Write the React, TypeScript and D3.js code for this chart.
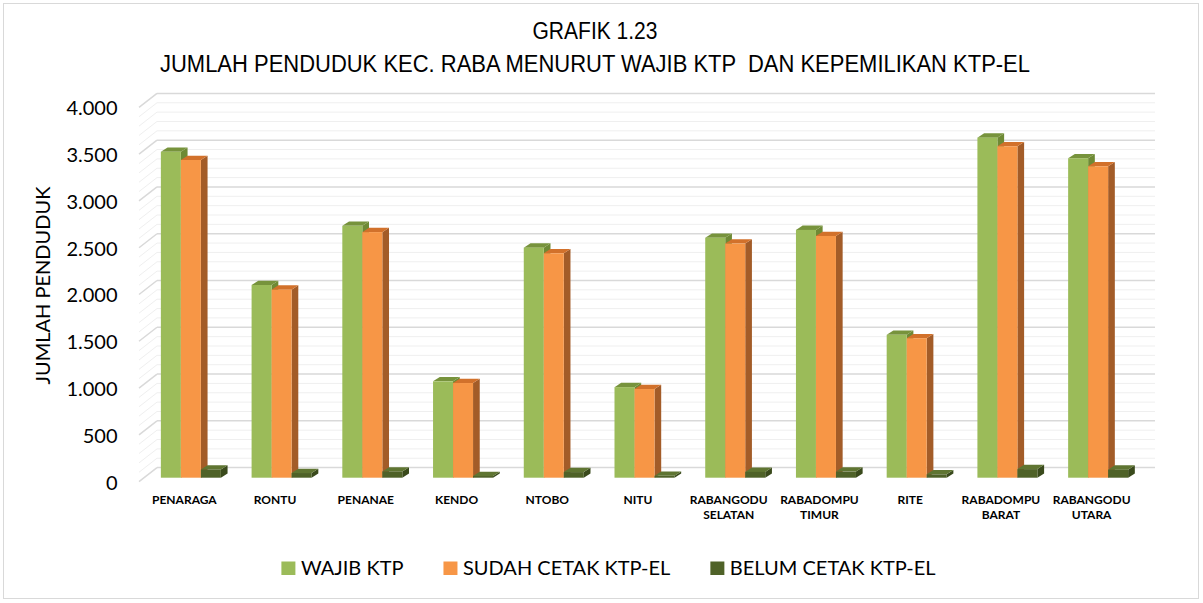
import { useEffect, useRef } from "react";
import * as d3 from "d3";

// data
const categories = [
  "PENARAGA",
  "RONTU",
  "PENANAE",
  "KENDO",
  "NTOBO",
  "NITU",
  "RABANGODU SELATAN",
  "RABADOMPU TIMUR",
  "RITE",
  "RABADOMPU BARAT",
  "RABANGODU UTARA",
];
const wajibKtp = [3484, 2060, 2692, 1030, 2459, 968, 2565, 2649, 1527, 3635, 3415];
const sudahCetak = [3396, 2010, 2625, 1012, 2399, 948, 2503, 2584, 1491, 3543, 3329];
const belumCetak = [88, 50, 67, 18, 60, 20, 62, 65, 36, 92, 86];
const seriesNames = ["WAJIB KTP", "SUDAH CETAK KTP-EL", "BELUM CETAK KTP-EL"];
const yTicks = [0, 500, 1000, 1500, 2000, 2500, 3000, 3500, 4000];
const titleLines = ["GRAFIK 1.23", "JUMLAH PENDUDUK KEC. RABA MENURUT WAJIB KTP  DAN KEPEMILIKAN KTP-EL"];
const titleWidths = [125, 870];
const yTitle = "JUMLAH PENDUDUK";

const W = 1203;
const H = 603;

const faces = [
  { front: "#9BBB59", top: "#77933C", side: "#6E8A35" },
  { front: "#F79646", top: "#D2712B", side: "#A35C28" },
  { front: "#4F6228", top: "#5F7532", side: "#3A4A1C" },
];

const calibri = "Lato, 'Open Sans', sans-serif";
const arial = "'Liberation Sans', Arial, sans-serif";

export default function App() {
  const ref = useRef<SVGSVGElement>(null);

  useEffect(() => {
    if (!ref.current) return;
    const svg = d3.select(ref.current);
    svg.selectAll("*").remove();

    // chart frame
    svg.append("rect")
      .attr("x", 3.5).attr("y", 3.5)
      .attr("width", W - 8).attr("height", H - 8)
      .attr("fill", "#fff").attr("stroke", "#D9D9D9");

    // 3D offsets: side wall depth and bar depth
    const wallDx = 18, wallDy = -14;
    const barDx = 6.7, barDy = -4.3;
    const barLift = -3.9;

    const y = d3.scaleLinear().domain([0, 4000]).range([481.6, 107.4]);
    const x = d3.scaleBand().domain(categories).range([139, 1137]);

    // gridlines on back wall + side wall
    const minor = d3.range(0, 4001, 100).filter((v) => v % 500 !== 0);
    const grid = svg.append("g");
    const wallLines = (cls: string, data: number[], color: string, sw: number) => {
      grid.selectAll(`line.${cls}`)
        .data(data)
        .join("line")
        .attr("class", cls)
        .attr("x1", 139 + wallDx).attr("x2", 1137 + wallDx)
        .attr("y1", (d) => y(d) + wallDy).attr("y2", (d) => y(d) + wallDy)
        .attr("stroke", color).attr("stroke-width", sw);
      grid.selectAll(`line.${cls}side`)
        .data(data)
        .join("line")
        .attr("class", `${cls}side`)
        .attr("x1", 139).attr("x2", 139 + wallDx)
        .attr("y1", (d) => y(d)).attr("y2", (d) => y(d) + wallDy)
        .attr("stroke", color).attr("stroke-width", sw);
    };
    wallLines("minor", minor, "#EFEFEF", 1);
    wallLines("major", yTicks, "#D9D9D9", 1.5);

    // y axis labels
    const idFormat = d3.formatLocale({ decimal: ",", thousands: ".", grouping: [3], currency: ["", ""] }).format(",d");
    const yAxis = svg.append("g")
      .attr("transform", "translate(117.5,1)")
      .call(d3.axisLeft(y).tickValues(yTicks).tickSize(0).tickPadding(0).tickFormat((d) => idFormat(+d)));
    yAxis.select(".domain").remove();
    yAxis.selectAll("text")
      .attr("fill", "#000")
      .style("font-family", calibri)
      .style("font-size", "20px");

    // bars
    const series = [wajibKtp, sudahCetak, belumCetak];
    const groupW = 60;
    const sub = d3.scaleBand<number>().domain([0, 1, 2]).range([0, groupW]);
    const barW = sub.bandwidth();
    const base = y(0) + barLift;
    const bars = svg.append("g");
    categories.forEach((c, i) => {
      const gx = (x(c) as number) + (x.bandwidth() - groupW) / 2 + 6.5;
      series.forEach((vals, s) => {
        const x0 = gx + (sub(s) as number);
        const top = y(vals[i]) + barLift;
        const f = faces[s];
        const g = bars.append("g");
        g.append("polygon")
          .attr("points", [
            [x0 + barW, top], [x0 + barW + barDx, top + barDy],
            [x0 + barW + barDx, base + barDy], [x0 + barW, base],
          ].join(" "))
          .attr("fill", f.side);
        g.append("polygon")
          .attr("points", [
            [x0, top], [x0 + barW, top],
            [x0 + barW + barDx, top + barDy], [x0 + barDx, top + barDy],
          ].join(" "))
          .attr("fill", f.top);
        g.append("rect")
          .attr("x", x0).attr("y", top)
          .attr("width", barW).attr("height", Math.max(0, base - top))
          .attr("fill", f.front);
      });
    });

    // x labels (two lines where needed)
    const xl = svg.append("g");
    categories.forEach((c) => {
      const cx = (x(c) as number) + x.bandwidth() / 2;
      const t = xl.append("text")
        .attr("x", cx)
        .attr("y", 503.5)
        .attr("text-anchor", "middle")
        .style("font-family", calibri)
        .style("font-size", "12px")
        .style("font-weight", "bold");
      c.split(" ").forEach((p, k) => {
        t.append("tspan")
          .attr("x", cx)
          .attr("dy", k === 0 ? 0 : 15)
          .text(p);
      });
    });

    // title (narrow face, so squeeze to measured width)
    svg.selectAll("text.title")
      .data(titleLines)
      .join("text")
      .attr("class", "title")
      .attr("x", 595)
      .attr("y", (_, k) => 38.5 + k * 33)
      .attr("text-anchor", "middle")
      .attr("textLength", (_, k) => titleWidths[k])
      .attr("lengthAdjust", "spacingAndGlyphs")
      .style("white-space", "pre")
      .style("font-family", arial)
      .style("font-size", "23.5px")
      .text((d) => d);

    // y title
    svg.append("text")
      .attr("transform", "translate(50,285.5) rotate(-90)")
      .attr("text-anchor", "middle")
      .style("font-family", calibri)
      .style("font-size", "20px")
      .text(yTitle);

    // legend
    const leg = svg.append("g");
    const items = seriesNames.map((name, s) => {
      const g = leg.append("g");
      g.append("rect").attr("x", 0).attr("y", -13.5).attr("width", 14).attr("height", 13.5).attr("fill", faces[s].front);
      const t = g.append("text").attr("x", 19.5).attr("y", 0)
        .style("font-family", calibri).style("font-size", "20px").text(name);
      const w = 19.5 + (t.node() as SVGTextElement).getComputedTextLength();
      return { g, w };
    });
    const gap = 40;
    const total = d3.sum(items, (d) => d.w) + gap * (items.length - 1);
    let lx = 608.5 - total / 2;
    items.forEach((it) => {
      it.g.attr("transform", `translate(${lx},575)`);
      lx += it.w + gap;
    });
  }, []);

  return (
    <svg
      ref={ref}
      width={W}
      height={H}
      style={{ position: "absolute", left: 0, top: 0, background: "#fff" }}
    ></svg>
  );
}
